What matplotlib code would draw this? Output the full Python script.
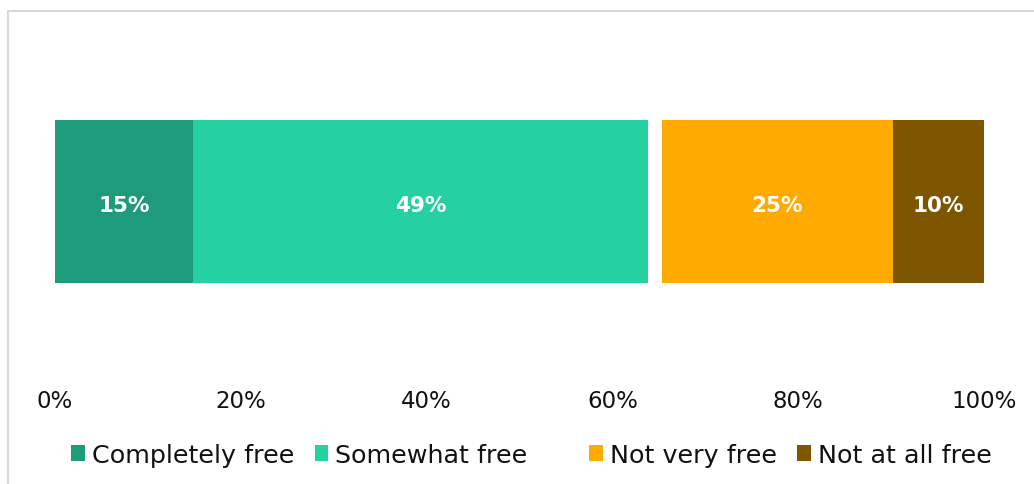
import matplotlib.pyplot as plt
from matplotlib.patches import Patch, Rectangle

plt.rcParams.update({"font.family": ["DejaVu Sans"]})

# survey shares (%), the unnamed slot is the small blank gap in the bar
categories = ["Completely free", "Somewhat free", "", "Not very free", "Not at all free"]
shares = [14.9, 48.9, 1.5, 24.9, 9.8]
colors = ["#1D9B7A", "#26D1A1", "#FFFFFF", "#FFAA00", "#7F5600"]
tick_values = [0, 20, 40, 60, 80, 100]

fig = plt.figure(figsize=(10.34, 4.85), dpi=100)
ax = fig.add_axes([55 / 1034, 1 - 284 / 485, 929 / 1034, 163 / 485])

left = 0
for name, val, col in zip(categories, shares, colors):
    ax.barh(0, val, left=left, height=1.0, color=col, edgecolor="none")
    if name:
        ax.text(left + val / 2, -0.02, f"{val:.0f}%", ha="center", va="center",
                color="white", fontsize=15.5, fontweight="bold")
    left += val

ax.set_xlim(0, 100)
ax.set_ylim(-0.5, 0.5)
ax.set_yticks([])
ax.set_xticks(tick_values)
ax.set_xticklabels([f"{t}%" for t in tick_values], fontsize=16.5, color="#111111")
ax.tick_params(axis="x", length=0, pad=76)
for s in ax.spines.values():
    s.set_visible(False)

handles = [Patch(facecolor=c, edgecolor="none") for c in colors]
fig.legend(handles, categories, loc="center", bbox_to_anchor=(0.514, 0.06),
           ncol=5, frameon=False, fontsize=18.3, handlelength=0.55,
           handleheight=0.55, handletextpad=0.27, columnspacing=0.8,
           labelcolor="#111111")

# light chart-area border
fig.add_artist(Rectangle((8 / 1034, -0.1), 1.2, 1 - 11.5 / 485 + 0.1,
                         transform=fig.transFigure, fill=False,
                         edgecolor="#D9D9D9", linewidth=1.5))

fig.savefig("out.png", dpi=100, facecolor="white")
